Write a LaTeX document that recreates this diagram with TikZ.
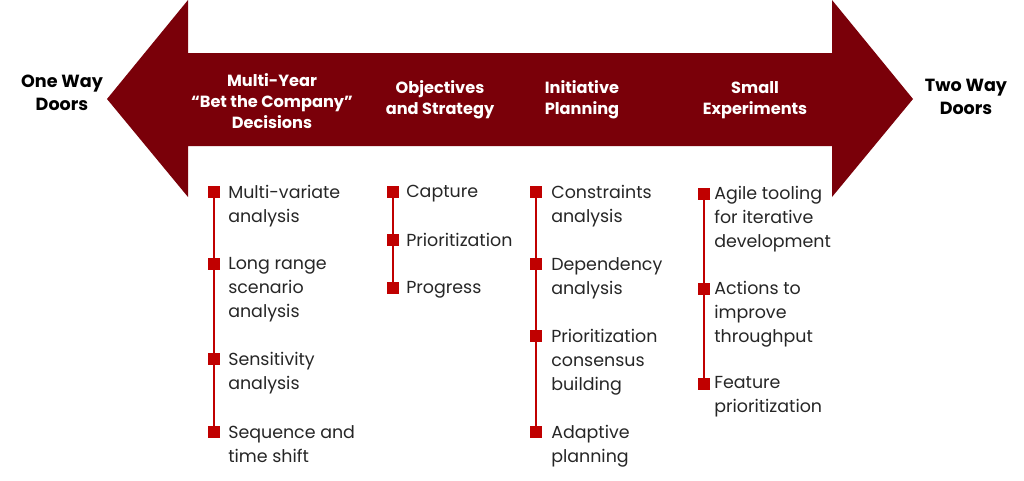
\documentclass[tikz,border=0pt]{standalone}
\usepackage{fontspec}
\setmainfont{Poppins}
\usepackage{xcolor}
\usetikzlibrary{positioning}
\definecolor{doorred}{HTML}{7A0009}
\definecolor{dotred}{HTML}{C00000}

\begin{document}
\begin{tikzpicture}[x=0.025cm,y=-0.025cm,
  head/.style={text=white,font=\bfseries\fontsize{11.5}{15}\selectfont,align=center},
  door/.style={font=\bfseries\fontsize{12.5}{16}\selectfont,align=center},
  dot/.style={fill=dotred,inner sep=0pt,minimum size=8.8pt},
  item/.style={anchor=north west,inner sep=0pt,align=left,text=black!85,
    font=\fontsize{12.4}{17}\selectfont},
  stem/.style={dotred,line width=0.8pt}]
\useasboundingbox (0,0) rectangle (1024,480);
\fill[doorred] (107,99) -- (188,0) -- (188,53) -- (832,53) -- (832,0) -- (913,99)
  -- (832,197) -- (832,146) -- (188,146) -- (188,197) -- cycle;
\node[door] (oneway) at (62,93) {One Way\\Doors};
\node[door] (twoway) at (966,97) {Two Way\\Doors};
\node[head] (multiyear) at (272,101) {Multi-Year\\``Bet the Company''\\Decisions};
\node[head] (objectives) at (440,100) {Objectives\\and Strategy};
\node[head] (initiative) at (582,100) {Initiative\\Planning};
\node[head] (small) at (755,100) {Small\\Experiments};

\node[dot] (b11) at (214,192) {};
\node[dot] (b12) at (214,264) {};
\node[dot] (b13) at (214,359) {};
\node[dot] (b14) at (214,432) {};
\draw[stem] (b11) -- (b14);
\node[item] (t11) at (228,185) {Multi-variate\\analysis};
\node[item] (t12) at (228,257) {Long range\\scenario\\analysis};
\node[item] (t13) at (228,352) {Sensitivity\\analysis};
\node[item] (t14) at (228,425) {Sequence and\\time shift};

\node[dot] (b21) at (393,192) {};
\node[dot] (b22) at (393,240) {};
\node[dot] (b23) at (393,288) {};
\draw[stem] (b21) -- (b23);
\node[item] (t21) at (406,185) {Capture};
\node[item] (t22) at (406,233) {Prioritization};
\node[item] (t23) at (406,281) {Progress};

\node[dot] (b31) at (536,192) {};
\node[dot] (b32) at (536,264) {};
\node[dot] (b33) at (536,336) {};
\node[dot] (b34) at (536,432) {};
\draw[stem] (b31) -- (b34);
\node[item] (t31) at (551,185) {Constraints\\analysis};
\node[item] (t32) at (551,257) {Dependency\\analysis};
\node[item] (t33) at (551,329) {Prioritization\\consensus\\building};
\node[item] (t34) at (551,425) {Adaptive\\planning};

\node[dot] (b41) at (704,194) {};
\node[dot] (b42) at (704,289) {};
\node[dot] (b43) at (704,384) {};
\draw[stem] (b41) -- (b43);
\node[item] (t41) at (714,186) {Agile tooling\\for iterative\\development};
\node[item] (t42) at (714,281) {Actions to\\improve\\throughput};
\node[item] (t43) at (714,376) {Feature\\prioritization};
\end{tikzpicture}
\end{document}
